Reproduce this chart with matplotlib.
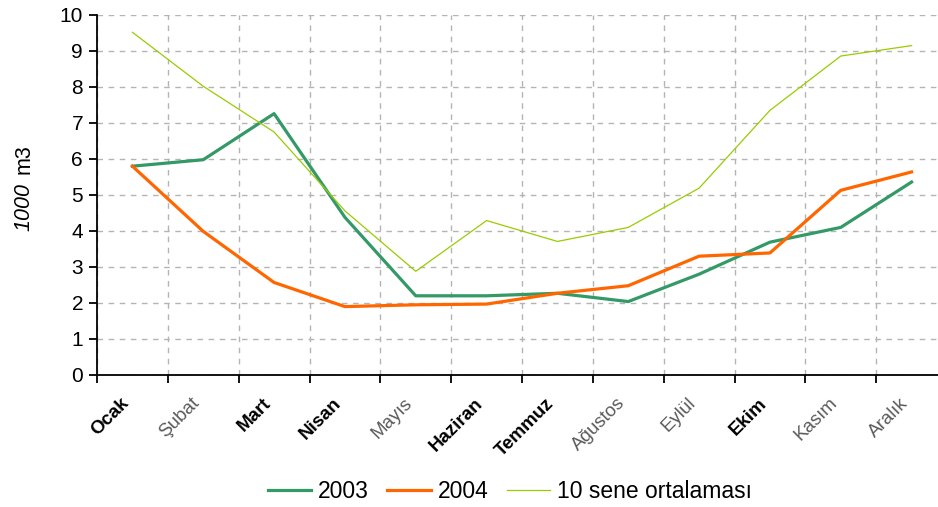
import matplotlib
matplotlib.use("Agg")
import matplotlib.pyplot as plt
import numpy as np

# aylar ve degerler (1000 m3)
aylar = ["Ocak", "Şubat", "Mart", "Nisan", "Mayıs", "Haziran", "Temmuz",
         "Ağustos", "Eylül", "Ekim", "Kasım", "Aralık"]
kalin = [True, False, True, True, False, True, True, False, False, True, False, False]
y2003 = [5.80, 5.98, 7.26, 4.38, 2.20, 2.20, 2.27, 2.04, 2.80, 3.69, 4.10, 5.36]
y2004 = [5.80, 3.99, 2.57, 1.90, 1.95, 1.97, 2.27, 2.48, 3.30, 3.39, 5.13, 5.64]
ortalama = [9.52, 8.02, 6.75, 4.56, 2.88, 4.29, 3.71, 4.10, 5.19, 7.35, 8.86, 9.15]

plt.rcParams['font.family'] = ['Liberation Sans', 'DejaVu Sans']

fig = plt.figure(figsize=(9.38, 5.07), dpi=100)
# sag kenar resmin disina tasiyor (orijinalde oldugu gibi)
ax = fig.add_axes([97 / 938, 132 / 507, 850 / 938, 360 / 507])

x = np.arange(len(aylar)) + 0.5
ax.plot(x, y2003, color="#339966", lw=2.3, label="2003")
ax.plot(x, y2004, color="#FF6600", lw=2.3, label="2004")
ax.plot(x, ortalama, color="#99CC00", lw=0.9, label="10 sene ortalaması")

ax.set_xlim(0, 12)
ax.set_ylim(0, 10)
ax.set_yticks(range(0, 11))
ax.set_xticks(range(0, 13))
ax.set_xticklabels([])
ax.grid(True, color="#b4b4b4", ls=(0, (4, 4)), lw=1)
ax.set_axisbelow(True)
for s in ["top", "right"]:
    ax.spines[s].set_visible(False)
for s in ["left", "bottom"]:
    ax.spines[s].set_linewidth(1.3)
ax.tick_params(axis="both", direction="out", length=6, width=1.3, labelsize=15, pad=4)

# ay isimleri, 45 derece
for i, ad in enumerate(aylar):
    if kalin[i]:
        ax.text(x[i] - 0.17, -0.55, ad, rotation=45, ha="right", va="top",
                rotation_mode="anchor", fontsize=13.5, fontweight="bold", color="black")
    else:
        ax.text(x[i] - 0.17, -0.55, ad, rotation=45, ha="right", va="top",
                rotation_mode="anchor", fontsize=13.5, color="#5a5a5a")

# eksen basligi: "1000" italik, "m3" duz
fig.text(24 / 938, 1 - 231 / 507, "1000", rotation=90, ha="center", va="bottom",
         fontsize=15.5, style="italic")
fig.text(24 / 938, 1 - 174 / 507, "m3", rotation=90, ha="center", va="bottom",
         fontsize=15.5)

fig.legend(loc="center", bbox_to_anchor=(510 / 938, 1 - 492 / 507), ncol=3,
           frameon=False, fontsize=16.5, handlelength=1.9, handletextpad=0.3,
           columnspacing=0.8)

fig.savefig("out.png", dpi=100)
